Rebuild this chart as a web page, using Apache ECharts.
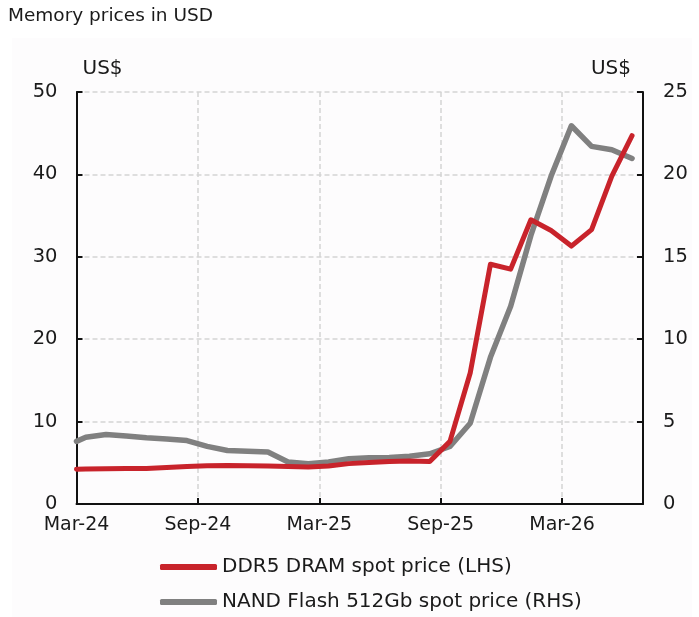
<!DOCTYPE html>
<html>
<head>
<meta charset="utf-8">
<script src="https://cdn.jsdelivr.net/npm/echarts@6/dist/echarts.min.js"></script>
<style>
  html, body { margin: 0; padding: 0; background: #fff; }
  #chart-container { width: 699px; height: 617px; }
</style>
</head>
<body>
<div id="chart-container"></div>
<script>
// Observation dates (mid-month readings, first point at start of axis)
const dates = [
  '2024-03-01', '2024-03-15', '2024-04-15', '2024-05-15', '2024-06-15', '2024-07-15',
  '2024-08-15', '2024-09-15', '2024-10-15', '2024-11-15', '2024-12-15', '2025-01-15',
  '2025-02-15', '2025-03-15', '2025-04-15', '2025-05-15', '2025-06-15', '2025-07-15',
  '2025-08-15', '2025-09-15', '2025-10-15', '2025-11-15', '2025-12-15', '2026-01-15',
  '2026-02-15', '2026-03-15', '2026-04-15', '2026-05-15', '2026-06-15'
];

// DDR5 DRAM spot price, US$ (left axis)
const ddr5 = [
  4.22, 4.25, 4.27, 4.3, 4.32, 4.42, 4.55, 4.65, 4.68, 4.65, 4.6, 4.55,
  4.5, 4.6, 4.9, 5.05, 5.15, 5.22, 5.15, 7.6, 15.9, 29.1, 28.5, 34.5,
  33.2, 31.3, 33.3, 39.8, 44.7
];

// NAND Flash 512Gb spot price, US$ (right axis)
const nand = [
  3.8, 4.05, 4.22, 4.12, 4.02, 3.95, 3.85, 3.5, 3.25, 3.2, 3.15, 2.55,
  2.45, 2.55, 2.75, 2.8, 2.82, 2.9, 3.05, 3.49, 4.9, 8.9, 12.0, 16.3,
  19.9, 22.95, 21.7, 21.5, 20.97
];

const tickLabels = ['Mar-24', 'Sep-24', 'Mar-25', 'Sep-25', 'Mar-26'];
const seriesNames = ['DDR5 DRAM spot price (LHS)', 'NAND Flash 512Gb spot price (RHS)'];

// months since Mar-24
function monthIndex(s) {
  const [y, m, d] = s.split('-').map(Number);
  return (y - 2024) * 12 + (m - 3) + (d - 1) / 30.5;
}

const FONT = 'DejaVu Sans';
const TEXT = '#1a1a1a';

const axisLine = { show: true, lineStyle: { color: '#111', width: 2 } };
const axisTick = { show: true, inside: true, length: 6, lineStyle: { color: '#111', width: 2 } };
const gridLine = { show: true, lineStyle: { color: '#d4d4d4', type: [5, 3], width: 1.5 } };

// one legend block per series, stacked
function legendRow(name, top) {
  return {
    data: [name],
    left: 155,
    top: top,
    itemWidth: 57,
    itemHeight: 6,
    icon: 'roundRect',
    textStyle: { fontFamily: FONT, fontSize: 20, lineHeight: 20, color: TEXT }
  };
}

const myChart = echarts.init(document.getElementById('chart-container'));
myChart.setOption({
  animation: false,
  backgroundColor: '#fff',
  textStyle: { fontFamily: FONT },
  graphic: [{
    type: 'rect',
    z: -10,
    shape: { x: 12, y: 38, width: 680, height: 579 },
    style: { fill: '#fdfcfd' }
  }],
  title: {
    text: 'Memory prices in USD',
    left: 3,
    top: 2,
    textStyle: { fontFamily: FONT, fontSize: 18.5, fontWeight: 'normal', color: TEXT }
  },
  grid: { left: 76.5, right: 56, top: 92, bottom: 113 },
  legend: [legendRow(seriesNames[0], 552), legendRow(seriesNames[1], 587)],
  xAxis: {
    type: 'value',
    min: 0,
    max: 28,
    interval: 6,
    axisLine: axisLine,
    axisTick: axisTick,
    splitLine: gridLine,
    axisLabel: {
      margin: 12,
      fontFamily: FONT,
      fontSize: 19,
      color: TEXT,
      formatter: v => (v % 6 === 0 && tickLabels[v / 6]) ? tickLabels[v / 6] : ''
    }
  },
  yAxis: [
    {
      type: 'value',
      min: 0,
      max: 50,
      interval: 10,
      name: 'US$',
      nameLocation: 'end',
      nameGap: 23,
      nameTextStyle: {
        fontFamily: FONT, fontSize: 20, color: TEXT,
        align: 'left', verticalAlign: 'middle', padding: [0, 0, 0, 6]
      },
      axisLine: axisLine,
      axisTick: axisTick,
      splitLine: gridLine,
      axisLabel: { margin: 19, fontFamily: FONT, fontSize: 19.5, color: TEXT }
    },
    {
      type: 'value',
      min: 0,
      max: 25,
      interval: 5,
      position: 'right',
      name: 'US$',
      nameLocation: 'end',
      nameGap: 23,
      nameTextStyle: {
        fontFamily: FONT, fontSize: 20, color: TEXT,
        align: 'right', verticalAlign: 'middle', padding: [0, 12, 0, 0]
      },
      axisLine: axisLine,
      axisTick: axisTick,
      splitLine: { show: false },
      axisLabel: { margin: 20, fontFamily: FONT, fontSize: 19.5, color: TEXT }
    }
  ],
  series: [
    {
      name: seriesNames[0],
      type: 'line',
      yAxisIndex: 0,
      z: 3,
      symbol: 'none',
      color: '#c8232b',
      lineStyle: { color: '#c8232b', width: 5, cap: 'round', join: 'round' },
      data: dates.map((d, i) => [monthIndex(d), ddr5[i]])
    },
    {
      name: seriesNames[1],
      type: 'line',
      yAxisIndex: 1,
      z: 2,
      symbol: 'none',
      color: '#808080',
      lineStyle: { color: '#808080', width: 5.5, cap: 'round', join: 'round' },
      data: dates.map((d, i) => [monthIndex(d), nand[i]])
    }
  ]
});
</script>
</body>
</html>
